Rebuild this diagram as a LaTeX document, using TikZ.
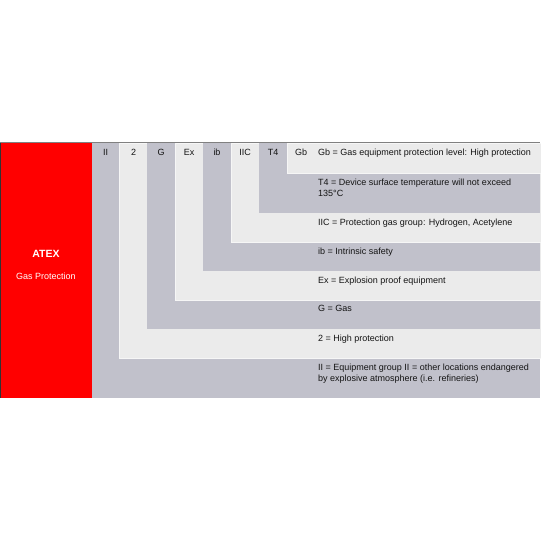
\documentclass[tikz,border=0pt]{standalone}
\usepackage{fontspec}
\setmainfont{Liberation Sans}
\definecolor{bandgray}{HTML}{C1C1CB}
\definecolor{bandlight}{HTML}{EBEBEB}
\definecolor{edgelight}{HTML}{F6F6F6}
\definecolor{topline}{HTML}{808080}
\definecolor{txt}{HTML}{141414}
\begin{document}
\begin{tikzpicture}[x=1pt,y=-1pt,
  graybar/.style={fill=bandgray,draw=none},
  lightbar/.style={fill=bandlight,draw=edgelight,line width=0.8pt},
  colhead/.style={font=\fontsize{9}{11}\selectfont,text=txt,inner sep=0pt,anchor=base},
  desc/.style={font=\fontsize{9}{11}\selectfont,text=txt,inner sep=0pt,anchor=north west,align=left}]
\useasboundingbox (0,0) rectangle (540,540);
% nested bands
\fill[graybar]  (92,143)  rectangle (540,398);
\filldraw[lightbar] (119,143) rectangle (541,358);
\fill[graybar]  (147,143) rectangle (540,329);
\filldraw[lightbar] (175,143) rectangle (541,300);
\fill[graybar]  (203,143) rectangle (540,271);
\filldraw[lightbar] (231,143) rectangle (541,242);
\fill[graybar]  (259,143) rectangle (540,213);
\filldraw[lightbar] (287,143) rectangle (541,173);
% red block
\fill[red] (0,143) rectangle (92,398);
\draw[black!80,line width=0.8pt] (0.4,143) -- (0.4,398);
\draw[topline,line width=1pt] (0,142.5) -- (540,142.5);
% red labels
\node[font=\bfseries\fontsize{10.5}{12}\selectfont,text=white,inner sep=0pt,anchor=base] (atex) at (46,257.8) {ATEX};
\node[font=\fontsize{9}{11}\selectfont,text=white,inner sep=0pt,anchor=base] (gasp) at (46,279.2) {Gas Protection};
% column headers
\node[colhead] (hII)  at (105.5,155.2) {II};
\node[colhead] (h2)   at (133.5,155.2) {2};
\node[colhead] (hG)   at (161,155.2) {G};
\node[colhead] (hEx)  at (189,155.2) {Ex};
\node[colhead] (hib)  at (217,155.2) {ib};
\node[colhead] (hIIC) at (245,155.2) {IIC};
\node[colhead] (hT4)  at (273,155.2) {T4};
\node[colhead] (hGb)  at (301,155.2) {Gb};
% descriptions
\node[desc] (dGb)  at (318,148.6) {Gb = Gas equipment protection level: High protection};
\node[desc] (dT4)  at (318,178.6) {T4 = Device surface temperature will not exceed\\135°C};
\node[desc] (dIIC) at (318,218.6) {IIC = Protection gas group: Hydrogen, Acetylene};
\node[desc] (dib)  at (318,247.6) {ib = Intrinsic safety};
\node[desc] (dEx)  at (318,276.6) {Ex = Explosion proof equipment};
\node[desc] (dG)   at (318,304.6) {G = Gas};
\node[desc] (d2)   at (318,334.6) {2 = High protection};
\node[desc] (dII)  at (318,363.6) {II = Equipment group II = other locations endangered\\by explosive atmosphere (i.e. refineries)};
\end{tikzpicture}
\end{document}
